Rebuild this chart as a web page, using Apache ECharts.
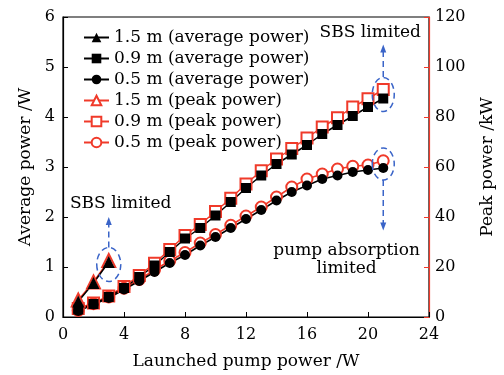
<!DOCTYPE html>
<html>
<head>
<meta charset="utf-8">
<script src="https://cdn.jsdelivr.net/npm/echarts@6/dist/echarts.min.js"></script>
<style>
html, body { margin: 0; padding: 0; background: #fff; }
#chart { width: 504px; height: 375px; }
</style>
</head>
<body>
<div id="chart"></div>
<script>
// launched pump power (W)
var pump = [1, 2, 3, 4, 5, 6, 7, 8, 9, 10, 11, 12, 13, 14, 15, 16, 17, 18, 19, 20, 21];
var pump15 = [1, 2, 3];
// average power (W)
var avg15 = [0.31, 0.68, 1.10];
var avg09 = [0.15, 0.26, 0.40, 0.58, 0.80, 1.03, 1.30, 1.57, 1.78, 2.03, 2.30, 2.58, 2.83, 3.06, 3.25, 3.44, 3.66, 3.84, 4.02, 4.20, 4.37];
var avg05 = [0.12, 0.25, 0.38, 0.55, 0.72, 0.90, 1.08, 1.24, 1.43, 1.60, 1.78, 1.96, 2.14, 2.33, 2.50, 2.63, 2.76, 2.83, 2.90, 2.94, 2.98];
// peak power (kW)
var peak15 = [6.8, 14.0, 22.6];
var peak09 = [3.4, 5.6, 8.4, 12.2, 16.6, 21.5, 27.0, 32.6, 37.0, 42.2, 47.5, 53.2, 58.5, 63.2, 67.4, 71.6, 76.0, 79.7, 84.0, 87.3, 91.0];
var peak05 = [2.6, 5.3, 8.0, 11.5, 15.0, 18.8, 22.5, 25.8, 29.6, 33.0, 36.7, 40.4, 44.0, 48.0, 52.0, 55.2, 57.2, 59.2, 60.3, 60.8, 62.5];

// annotations (data coords, left axis)
var ellipses = [[21, 4.45, 11, 17], [21, 3.06, 11, 16], [3, 1.05, 12, 17]];
var arrows = [[21, 4.80, 21, 5.45], [21, 2.74, 21, 1.73], [3, 1.39, 3, 2.00]];
var notes = [
    ['SBS limited', 20.15, 5.69],
    ['SBS limited', 3.78, 2.27],
    ['pump absorption', 18.6, 1.33],
    ['limited', 18.6, 0.97]
];

var FONT = 'DejaVu Serif';
var RED = '#f03a2a';
var BLUE = '#3a64c8';

function zip(xs, ys) {
    return xs.map(function (x, i) { return [x, ys[i]]; });
}

function redSeries(name, sym, xs, ys, size) {
    return {
        name: name, type: 'line', yAxisIndex: 1, data: zip(xs, ys),
        symbol: sym, symbolSize: size,
        itemStyle: { color: RED, borderWidth: 1.5 },
        lineStyle: { color: RED, width: 1.5 }
    };
}
function blackSeries(name, sym, xs, ys, size) {
    return {
        name: name, type: 'line', yAxisIndex: 0, data: zip(xs, ys),
        symbol: sym, symbolSize: size,
        itemStyle: { color: '#000' },
        lineStyle: { color: '#000', width: 1.5 }
    };
}

var chart = echarts.init(document.getElementById('chart'));
var option = {
    animation: false,
    textStyle: { fontFamily: FONT },
    grid: { left: 63, right: 70, top: 17, bottom: 56, show: true, borderColor: '#000', borderWidth: 1.2 },
    legend: {
        orient: 'vertical', left: 78, top: 24, itemGap: 4, itemWidth: 25, itemHeight: 12,
        textStyle: { fontFamily: FONT, fontSize: 17, color: '#000' },
        data: ['1.5 m (average power)', '0.9 m (average power)', '0.5 m (average power)',
            '1.5 m (peak power)', '0.9 m (peak power)', '0.5 m (peak power)']
    },
    xAxis: {
        type: 'value', min: 0, max: 24, interval: 4,
        name: 'Launched pump power /W', nameLocation: 'middle', nameGap: 36,
        nameTextStyle: { fontFamily: FONT, fontSize: 17, color: '#000' },
        axisLine: { lineStyle: { color: '#000', width: 1.2 } },
        axisTick: { inside: true, length: 5, lineStyle: { color: '#000' } },
        axisLabel: { fontFamily: FONT, fontSize: 16, color: '#000', margin: 10 },
        splitLine: { show: false }
    },
    yAxis: [{
        type: 'value', min: 0, max: 6, interval: 1,
        name: 'Average power /W', nameLocation: 'middle', nameGap: 28, nameRotate: 90,
        nameTextStyle: { fontFamily: FONT, fontSize: 17, color: '#000' },
        axisLine: { show: true, lineStyle: { color: '#000', width: 1.2 } },
        axisTick: { show: true, inside: true, length: 5, lineStyle: { color: '#000' } },
        axisLabel: { fontFamily: FONT, fontSize: 16, color: '#000', margin: 8 },
        splitLine: { show: false }
    }, {
        type: 'value', min: 0, max: 120, interval: 20, position: 'right',
        name: 'Peak power /kW', nameLocation: 'middle', nameGap: 50, nameRotate: 90,
        nameTextStyle: { fontFamily: FONT, fontSize: 17, color: '#000' },
        axisLine: { show: true, lineStyle: { color: RED, width: 1.2 } },
        axisTick: { show: true, inside: true, length: 5, lineStyle: { color: RED } },
        axisLabel: { fontFamily: FONT, fontSize: 16, color: '#000', margin: 6 },
        splitLine: { show: false }
    }],
    series: [
        redSeries('1.5 m (peak power)', 'emptyTriangle', pump15, peak15, 13),
        redSeries('0.9 m (peak power)', 'emptyRect', pump, peak09, 11),
        redSeries('0.5 m (peak power)', 'emptyCircle', pump, peak05, 11),
        blackSeries('1.5 m (average power)', 'triangle', pump15, avg15, 12),
        blackSeries('0.9 m (average power)', 'rect', pump, avg09, 10),
        blackSeries('0.5 m (average power)', 'circle', pump, avg05, 10),
        {
            type: 'custom', yAxisIndex: 0, silent: true, z: 5,
            data: ellipses,
            renderItem: function (params, api) {
                var c = api.coord([api.value(0), api.value(1)]);
                var rx = api.value(2), ry = api.value(3);
                var d = 'M' + (c[0] - rx) + ' ' + c[1] +
                    ' A' + rx + ' ' + ry + ' 0 1 0 ' + (c[0] + rx) + ' ' + c[1] +
                    ' A' + rx + ' ' + ry + ' 0 1 0 ' + (c[0] - rx) + ' ' + c[1] + ' Z';
                return {
                    type: 'path', shape: { pathData: d },
                    style: { fill: null, stroke: BLUE, lineWidth: 1.5, lineDash: [6, 4] }
                };
            }
        },
        {
            type: 'custom', yAxisIndex: 0, silent: true, z: 5,
            data: arrows,
            renderItem: function (params, api) {
                var a = api.coord([api.value(0), api.value(1)]);
                var b = api.coord([api.value(2), api.value(3)]);
                var dir = b[1] < a[1] ? 1 : -1;
                return {
                    type: 'group', children: [{
                        type: 'line',
                        shape: { x1: a[0], y1: a[1], x2: b[0], y2: b[1] + dir * 6 },
                        style: { stroke: BLUE, lineWidth: 1.5, lineDash: [6, 4] }
                    }, {
                        type: 'polygon',
                        shape: { points: [[b[0], b[1]], [b[0] - 3, b[1] + dir * 8], [b[0] + 3, b[1] + dir * 8]] },
                        style: { fill: BLUE }
                    }]
                };
            }
        },
        {
            type: 'custom', yAxisIndex: 0, silent: true, z: 5,
            data: notes.map(function (n) { return [n[1], n[2]]; }),
            renderItem: function (params, api) {
                var c = api.coord([api.value(0), api.value(1)]);
                return {
                    type: 'text', x: c[0], y: c[1],
                    style: {
                        text: notes[params.dataIndex][0], fill: '#000',
                        font: '17px "DejaVu Serif"', align: 'center', verticalAlign: 'middle'
                    }
                };
            }
        }
    ]
};
chart.setOption(option);
</script>
</body>
</html>
